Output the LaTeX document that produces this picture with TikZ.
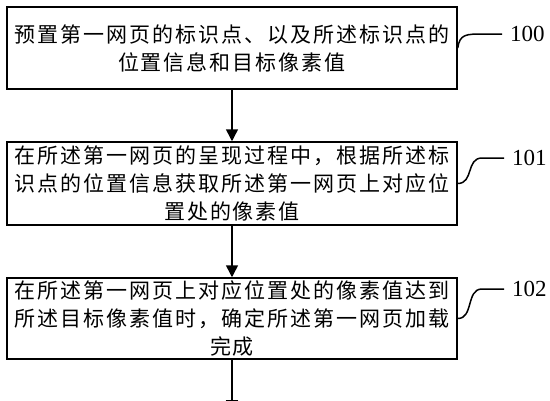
\documentclass[tikz,border=0pt]{standalone}
\usepackage{fontspec}
\setmainfont{Liberation Serif}
\newfontfamily\cjk[LetterSpace=9.5]{Noto Sans CJK SC}
\usetikzlibrary{arrows.meta}

\begin{document}
\begin{tikzpicture}[x=1pt,y=-1pt]
    \tikzset{
        stepbox/.style={draw, line width=1.5pt, minimum width=450pt, inner sep=0pt,
            align=center, font=\cjk\fontsize{21}{28}\selectfont},
        stepnum/.style={anchor=west, inner sep=0pt, font=\fontsize{23}{23}\selectfont},
        flow/.style={line width=1.5pt, -{Triangle[length=12pt,width=12pt]}},
        hook/.style={line width=1.5pt}
    }
    \useasboundingbox (0,0) rectangle (550,400);
    \clip (0,0) rectangle (550,400);
    \node[stepbox, minimum height=82pt] (S100) at (232,48)
        {预置第一网页的标识点、以及所述标识点的\\位置信息和目标像素值};
    \node[stepbox, minimum height=83pt] (S101) at (232,183.5)
        {在所述第一网页的呈现过程中，根据所述标\\识点的位置信息获取所述第一网页上对应位\\置处的像素值};
    \node[stepbox, minimum height=81pt] (S102) at (232,318.5)
        {在所述第一网页上对应位置处的像素值达到\\所述目标像素值时，确定所述第一网页加载\\完成};
    \node[stepnum] (n100) at (510,34) {100};
    \node[stepnum] (n101) at (512,158) {101};
    \node[stepnum] (n102) at (512,289) {102};
    \coordinate (end) at (232,412);
    \draw[flow] (S100) -- (S101);
    \draw[flow] (S101) -- (S102);
    \draw[flow] (S102) -- (end);
    \draw[hook] (S100.east) .. controls +(2,-14) and +(-18,0) .. ([xshift=-26pt]n100.west)
        -- ([xshift=-8pt]n100.west);
    \draw[hook] (S101.east) .. controls +(16,0) and +(-16,0) .. ([xshift=-30pt]n101.west)
        -- ([xshift=-8pt]n101.west);
    \draw[hook] (S102.east) .. controls +(16,0) and +(-16,0) .. ([xshift=-30pt]n102.west)
        -- ([xshift=-8pt]n102.west);
\end{tikzpicture}
\end{document}
